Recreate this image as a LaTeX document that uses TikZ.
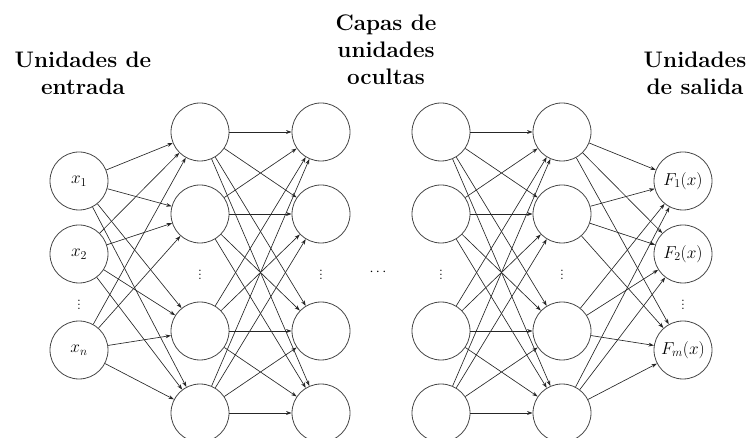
\documentclass[tikz,border=0pt]{standalone}
\usetikzlibrary{arrows.meta}
\begin{document}
\begin{tikzpicture}[x=1pt,y=-1pt,
  unit/.style={circle,draw=black!72,line width=0.8pt,minimum size=58pt,inner sep=0pt,
    font=\fontsize{17}{20}\selectfont},
  conn/.style={draw=black!85,line width=0.65pt,-{Stealth[length=5.5pt,width=3.8pt]}},
  heading/.style={font=\fontsize{22.5}{27}\selectfont\bfseries,align=center,anchor=base},
  vdot/.style={font=\fontsize{14}{16}\selectfont,inner sep=0pt},
]
\useasboundingbox (0,0) rectangle (750,438);

% headings (anchored at the baseline of their last line)
\node[heading] (hin)  at (83,95)  {Unidades de\\entrada};
\node[heading] (hmid) at (386,85) {Capas de\\unidades\\ocultas};
\node[heading] (hout) at (695,95) {Unidades\\de salida};

% input units
\node[unit] (in1) at (79,181) {$x_1$};
\node[unit] (in2) at (79,254) {$x_2$};
\node[unit] (in3) at (79,350) {$x_n$};
\node[vdot] (indots) at (79,302) {$\vdots$};

% hidden layers
\foreach \lay/\xx in {a/200,b/321,c/441,d/562}{
  \foreach \k/\yy in {1/132,2/214,3/331,4/413}{
    \node[unit] (\lay\k) at (\xx,\yy) {};
  }
  \node[vdot] (\lay dots) at (\xx,272) {$\vdots$};
}
\node[inner sep=0pt,font=\fontsize{14}{16}\selectfont] (gap) at (378,272) {$\cdots$};

% output units
\node[unit] (out1) at (683,181) {$F_1(x)$};
\node[unit] (out2) at (683,254) {$F_2(x)$};
\node[unit] (out3) at (683,350) {$F_m(x)$};
\node[vdot] (outdots) at (683,302) {$\vdots$};

% connections
\foreach \i in {1,2,3}{
  \foreach \j in {1,2,3,4}{
    \draw[conn] (in\i) -- (a\j);
  }
}
\foreach \i in {1,2,3,4}{
  \foreach \j in {1,2,3,4}{
    \draw[conn] (a\i) -- (b\j);
    \draw[conn] (c\i) -- (d\j);
  }
}
\foreach \i in {1,2,3,4}{
  \foreach \j in {1,2,3}{
    \draw[conn] (d\i) -- (out\j);
  }
}
\end{tikzpicture}
\end{document}
